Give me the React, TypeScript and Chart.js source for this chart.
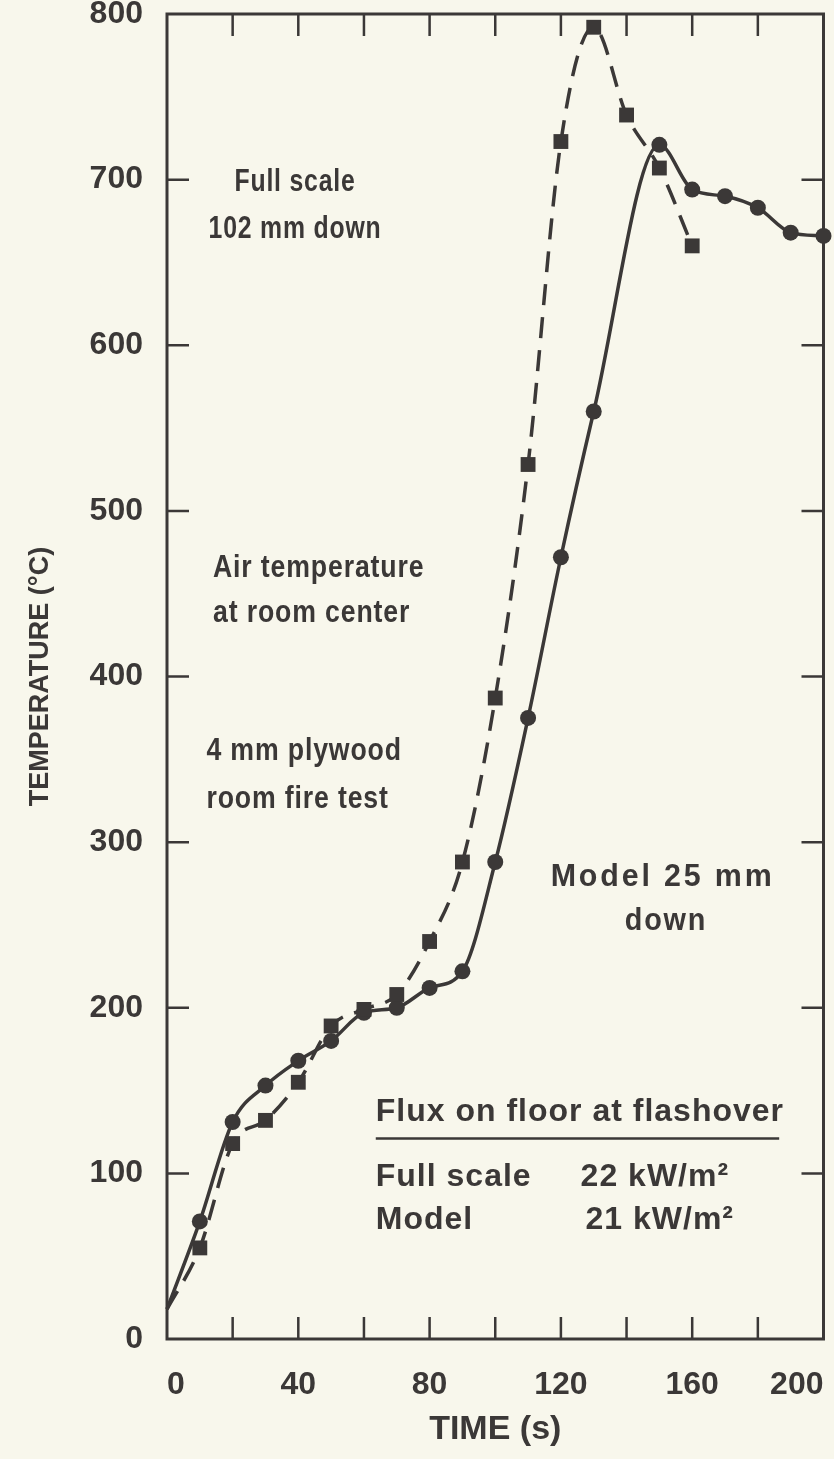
import React, { useEffect, useRef } from 'react';
import { Chart, registerables } from 'chart.js';

Chart.register(...registerables);

// ---- Data ----
const modelTime = [0, 10, 20, 30, 40, 50, 60, 70, 80, 90, 100, 110, 120, 130, 150, 160, 170, 180, 190, 200];
const modelTemp = [18, 71, 131, 153, 168, 180, 197, 200, 212, 222, 288, 375, 472, 560, 721, 694, 690, 683, 668, 666];

const fullTime = [0, 10, 20, 30, 40, 50, 60, 70, 80, 90, 100, 110, 120, 130, 140, 150, 160];
const fullTemp = [18, 55, 118, 132, 155, 189, 199, 208, 240, 288, 387, 528, 723, 792, 739, 707, 660];

const xTickValues = [0, 20, 40, 60, 80, 100, 120, 140, 160, 180, 200];
const xLabelValues = [0, 40, 80, 120, 160, 200];
const yTickValues = [0, 100, 200, 300, 400, 500, 600, 700, 800];

const xTitle = 'TIME (s)';
const yTitle = 'TEMPERATURE (°C)';

// annotation texts anchored in data units
const notes = [
  { text: 'Full scale', x: 39, y: 698, align: 'center' },
  { text: '102 mm down', x: 39, y: 670, align: 'center' },
  { text: 'Air temperature', x: 14, y: 465, align: 'left' },
  { text: 'at room center', x: 14, y: 438, align: 'left' },
  { text: '4 mm plywood', x: 12, y: 355, align: 'left' },
  { text: 'room fire test', x: 12, y: 326, align: 'left' },
  { text: 'Model 25 mm', x: 151, y: 279, align: 'center' },
  { text: 'down', x: 152, y: 252, align: 'center' },
  { text: 'Flux on floor at flashover', x: 63.6, y: 137, align: 'left' },
  { text: 'Full scale', x: 63.6, y: 98, align: 'left' },
  { text: '22 kW/m²', x: 126, y: 98, align: 'left' },
  { text: 'Model', x: 63.6, y: 72, align: 'left' },
  { text: '21 kW/m²', x: 127.5, y: 72, align: 'left' },
];
const underline = { x1: 63.6, x2: 186.5, y: 121 };

// per-note text styling (index-aligned with notes)
const noteStyle = [
  { size: 31, sx: 0.8, ls: 1 },
  { size: 31, sx: 0.8, ls: 1 },
  { size: 31, sx: 0.86, ls: 1 },
  { size: 31, sx: 0.86, ls: 1 },
  { size: 31, sx: 0.86, ls: 1 },
  { size: 31, sx: 0.86, ls: 1 },
  { size: 32, sx: 0.95, ls: 3 },
  { size: 32, sx: 0.9, ls: 2 },
  { size: 32, sx: 1, ls: 1 },
  { size: 32, sx: 1, ls: 1 },
  { size: 32, sx: 1, ls: 1 },
  { size: 32, sx: 1, ls: 1 },
  { size: 32, sx: 1, ls: 1 },
];

const INK = '#3b3837';
const BG = '#f8f7ec';
const FAMILY = "'Liberation Sans', Arial, 'DejaVu Sans', sans-serif";

const framePlugin = {
  id: 'framePlugin',
  beforeDraw(chart: any) {
    const { ctx, width, height } = chart;
    ctx.save();
    ctx.fillStyle = BG;
    ctx.fillRect(0, 0, width, height);
    ctx.restore();
  },
  beforeDatasetsDraw(chart: any) {
    const { ctx, chartArea: a, scales } = chart;
    const xs = scales.x;
    const ys = scales.y;
    ctx.save();
    ctx.strokeStyle = INK;
    ctx.lineWidth = 3;
    ctx.strokeRect(a.left, a.top, a.right - a.left, a.bottom - a.top);
    ctx.lineWidth = 2.5;
    const L = 22;
    ctx.beginPath();
    xTickValues.forEach((v) => {
      if (v === xs.min || v === xs.max) return;
      const px = xs.getPixelForValue(v);
      ctx.moveTo(px, a.bottom);
      ctx.lineTo(px, a.bottom - L);
      ctx.moveTo(px, a.top);
      ctx.lineTo(px, a.top + L);
    });
    yTickValues.forEach((v) => {
      if (v === ys.min || v === ys.max) return;
      const py = ys.getPixelForValue(v);
      ctx.moveTo(a.left, py);
      ctx.lineTo(a.left + L, py);
      ctx.moveTo(a.right, py);
      ctx.lineTo(a.right - L, py);
    });
    ctx.stroke();
    ctx.restore();
  },
  afterDatasetsDraw(chart: any) {
    const { ctx, scales } = chart;
    const xs = scales.x;
    const ys = scales.y;
    ctx.save();
    ctx.fillStyle = INK;
    ctx.textBaseline = 'middle';
    notes.forEach((n, i) => {
      const st = noteStyle[i];
      const px = xs.getPixelForValue(n.x);
      const py = ys.getPixelForValue(n.y);
      ctx.save();
      ctx.translate(px, py);
      ctx.font = `bold ${st.size}px ${FAMILY}`;
      (ctx as any).letterSpacing = `${st.ls}px`;
      ctx.scale(st.sx, 1);
      ctx.textAlign = n.align as CanvasTextAlign;
      ctx.fillText(n.text, 0, 0);
      ctx.restore();
    });
    (ctx as any).letterSpacing = '0px';
    ctx.strokeStyle = INK;
    ctx.lineWidth = 2.5;
    ctx.beginPath();
    ctx.moveTo(xs.getPixelForValue(underline.x1), ys.getPixelForValue(underline.y));
    ctx.lineTo(xs.getPixelForValue(underline.x2), ys.getPixelForValue(underline.y));
    ctx.stroke();
    ctx.restore();
  },
};

export default function App() {
  const ref = useRef<HTMLCanvasElement | null>(null);

  useEffect(() => {
    if (!ref.current) return;
    const chart = new Chart(ref.current, {
      type: 'line',
      data: {
        datasets: [
          {
            label: 'Full scale 102 mm down',
            data: fullTime.map((t, i) => ({ x: t, y: fullTemp[i] })),
            borderColor: INK,
            backgroundColor: INK,
            borderWidth: 3.5,
            borderDash: [21, 12],
            cubicInterpolationMode: 'monotone',
            pointStyle: 'rect',
            pointRadius: (c: any) => (c.dataIndex === 0 ? 0 : 10.5),
            pointBorderWidth: 0,
            fill: false,
            clip: false,
          } as any,
          {
            label: 'Model 25 mm down',
            data: modelTime.map((t, i) => ({ x: t, y: modelTemp[i] })),
            borderColor: INK,
            backgroundColor: INK,
            borderWidth: 3.5,
            cubicInterpolationMode: 'monotone',
            pointStyle: 'circle',
            pointRadius: (c: any) => (c.dataIndex === 0 ? 0 : 8),
            pointBorderWidth: 0,
            fill: false,
            clip: false,
          } as any,
        ],
      },
      options: {
        animation: false,
        responsive: false,
        maintainAspectRatio: false,
        events: [],
        layout: { padding: { top: 14, right: 7, left: 0, bottom: 0 } },
        plugins: { legend: { display: false }, tooltip: { enabled: false } },
        scales: {
          x: {
            type: 'linear',
            min: 0,
            max: 200,
            afterBuildTicks: (s: any) => {
              s.ticks = xTickValues.map((v) => ({ value: v }));
            },
            afterFit: (s: any) => {
              s.height = 120;
              s.paddingLeft = 0;
              s.paddingRight = 0;
            },
            grid: { display: false, drawTicks: false },
            border: { display: false },
            ticks: {
              align: 'inner',
              padding: 27,
              color: INK,
              font: { family: FAMILY, size: 32, weight: 'bold' },
              autoSkip: false,
              maxRotation: 0,
              callback: (v: any) => (xLabelValues.includes(Number(v)) ? String(v) : ''),
            },
            title: {
              display: true,
              text: xTitle,
              color: INK,
              font: { family: FAMILY, size: 34, weight: 'bold' },
              padding: { top: 0, bottom: 9 },
            },
          },
          y: {
            type: 'linear',
            min: 0,
            max: 800,
            afterBuildTicks: (s: any) => {
              s.ticks = yTickValues.map((v) => ({ value: v }));
            },
            afterFit: (s: any) => {
              s.width = 167;
              s.paddingTop = 0;
              s.paddingBottom = 0;
            },
            grid: { display: false, drawTicks: false },
            border: { display: false },
            ticks: {
              padding: 24,
              color: INK,
              font: { family: FAMILY, size: 32, weight: 'bold' },
              autoSkip: false,
              callback: (v: any) => String(v),
            },
            title: {
              display: true,
              text: yTitle,
              color: INK,
              font: { family: FAMILY, size: 27, weight: 'bold' },
              padding: { top: 24, bottom: 0 },
            },
          },
        },
      } as any,
      plugins: [framePlugin],
    });
    return () => chart.destroy();
  }, []);

  return (
    <div style={{ position: 'fixed', left: 0, top: 0, width: 834, height: 1459, background: BG }}>
      <canvas ref={ref} width={834} height={1459} style={{ display: 'block', width: 834, height: 1459 }} />
    </div>
  );
}
